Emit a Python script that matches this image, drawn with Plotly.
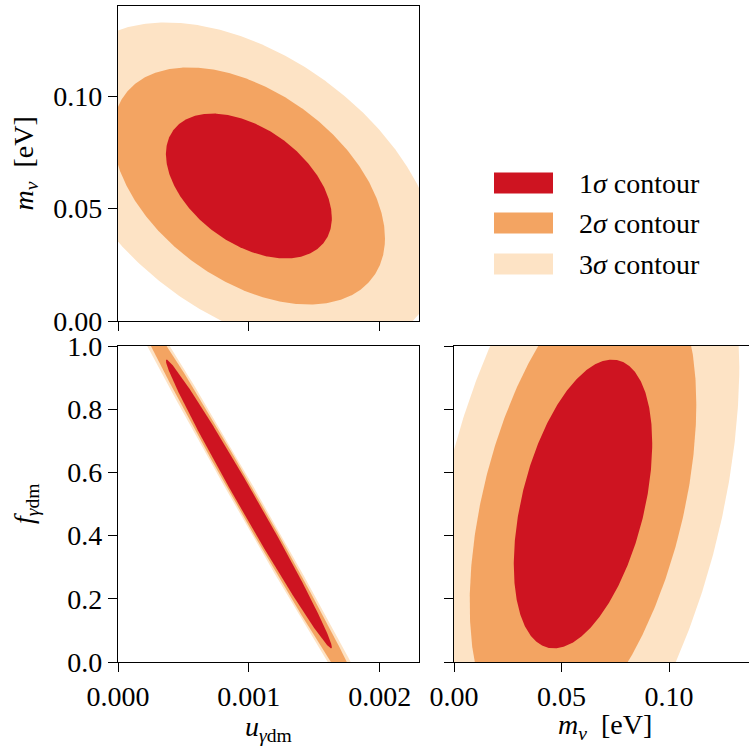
import numpy as np
import plotly.graph_objects as go

# ---------------------------------------------------------------- data
LEVEL_LABELS = ["1<i>σ</i> contour", "2<i>σ</i> contour", "3<i>σ</i> contour"]
FILL_COLORS = ["#CE1421", "#F3A462", "#FDE3C5"]

# fiducial values of the three parameters
FID_U = 0.001   # u_γdm
FID_M = 0.06    # m_ν [eV]
FID_F = 0.5     # f_γdm

# projected half-extents of the 1σ / 2σ / 3σ regions
HALF_U = [0.000634, 0.00104, 0.00144]
HALF_M = [0.0322, 0.0527, 0.0727]
HALF_F = [0.457, 0.75, 1.04]
UM_TILT = [-0.44, -0.44, -0.44]
MF_TILT = [0.42, 0.42, 0.42]

# u–f plane: nearly perfect degeneracy
UF_HALF_U = [0.000634, 0.000912, 0.001176]
UF_HALF_F = [0.457, 0.66, 0.85]
UF_TILT = [-0.992, -0.9945, -0.9956]

U_TICKS = [0.0, 0.001, 0.002]
M_TICKS = [0.0, 0.05, 0.10]
F_TICKS = [0.0, 0.2, 0.4, 0.6, 0.8, 1.0]
U_RANGE = [0.0, 0.0023]
M_RANGE = [0.0, 0.14]
F_RANGE = [0.0, 1.0]

# ---------------------------------------------------------------- layout
W = H = 749
FONT = "Liberation Serif, DejaVu Serif, serif"
FS = 28


def px(x):
    return x / W


def py(y):
    return 1 - y / H


def ellipse(cx, cy, hx, hy, tilt, n=600):
    t = np.linspace(0, 2 * np.pi, n)
    x = cx + hx * np.cos(t)
    y = cy + hy * (tilt * np.cos(t) + np.sqrt(1 - tilt ** 2) * np.sin(t))
    return x, y


fig = go.Figure()

# panel geometry in pixels
LEFT_X = (118, 419)
RIGHT_X = (454, 755)
TOP_Y = (6, 321)
BOT_Y = (346, 662)

panels = [
    # (xaxis, yaxis, cx, cy, half_x, half_y, tilt)
    ("x", "y", FID_U, FID_M, HALF_U, HALF_M, UM_TILT),
    ("x2", "y2", FID_U, FID_F, UF_HALF_U, UF_HALF_F, UF_TILT),
    ("x3", "y3", FID_M, FID_F, HALF_M, HALF_F, MF_TILT),
]

for xa, ya, cx, cy, hxs, hys, tilts in panels:
    for k in (2, 1, 0):
        ex, ey = ellipse(cx, cy, hxs[k], hys[k], tilts[k])
        fig.add_trace(go.Scatter(
            x=ex, y=ey, xaxis=xa, yaxis=ya, mode="lines",
            line=dict(width=0, color=FILL_COLORS[k]),
            fill="toself", fillcolor=FILL_COLORS[k],
            hoverinfo="skip", showlegend=False,
        ))

axis_common = dict(
    showgrid=False, zeroline=False, showline=True, linecolor="black",
    linewidth=1.3, ticks="outside", ticklen=9, tickwidth=1.3,
    tickcolor="black", automargin=False,
    tickfont=dict(family=FONT, size=FS, color="black"),
)

# right panel extends past the page edge, so its visible range is clipped
right_visible = M_RANGE[1] * (W - RIGHT_X[0]) / (RIGHT_X[1] - RIGHT_X[0])

fig.update_layout(
    width=W, height=H,
    margin=dict(l=0, r=0, t=0, b=0, autoexpand=False),
    paper_bgcolor="white", plot_bgcolor="white",
    font=dict(family=FONT, size=FS, color="black"),
    xaxis=dict(axis_common, domain=[px(LEFT_X[0]), px(LEFT_X[1])],
               range=U_RANGE, tickvals=U_TICKS, showticklabels=False,
               mirror=True, anchor="y"),
    yaxis=dict(axis_common, domain=[py(TOP_Y[1]), py(TOP_Y[0])],
               range=M_RANGE, tickvals=M_TICKS, tickformat=".2f",
               mirror=True, anchor="x"),
    xaxis2=dict(axis_common, domain=[px(LEFT_X[0]), px(LEFT_X[1])],
                range=U_RANGE, tickvals=U_TICKS, tickformat=".3f",
                mirror=True, anchor="y2"),
    yaxis2=dict(axis_common, domain=[py(BOT_Y[1]), py(BOT_Y[0])],
                range=F_RANGE, tickvals=F_TICKS, tickformat=".1f",
                mirror=True, anchor="x2"),
    xaxis3=dict(axis_common, domain=[px(RIGHT_X[0]), 1.0],
                range=[M_RANGE[0], right_visible], tickvals=M_TICKS,
                tickformat=".2f", mirror=True, anchor="y3"),
    yaxis3=dict(axis_common, domain=[py(BOT_Y[1]), py(BOT_Y[0])],
                range=F_RANGE, tickvals=F_TICKS, showticklabels=False,
                mirror=False, anchor="x3"),
)

title_font = dict(family=FONT, size=FS, color="black")
annotations = [
    dict(text="<i>m</i><sub><i>ν</i></sub>&nbsp;&nbsp;[eV]", x=px(25),
         y=py((TOP_Y[0] + TOP_Y[1]) / 2), textangle=-90),
    dict(text="<i>f</i><sub><i>γ</i>dm</sub>", x=px(25),
         y=py((BOT_Y[0] + BOT_Y[1]) / 2), textangle=-90),
    dict(text="<i>u</i><sub><i>γ</i>dm</sub>", x=px((LEFT_X[0] + LEFT_X[1]) / 2),
         y=py(728)),
    dict(text="<i>m</i><sub><i>ν</i></sub>&nbsp;&nbsp;[eV]",
         x=px((RIGHT_X[0] + RIGHT_X[1]) / 2), y=py(726)),
]
for a in annotations:
    fig.add_annotation(xref="paper", yref="paper", showarrow=False,
                       xanchor="center", yanchor="middle", font=title_font, **a)

# legend: colour patches with labels
LEG_PATCH_X = (494, 553)
LEG_ROWS_Y = [183, 223, 264]
for label, color, yc in zip(LEVEL_LABELS, FILL_COLORS, LEG_ROWS_Y):
    fig.add_shape(type="rect", xref="paper", yref="paper",
                  x0=px(LEG_PATCH_X[0]), x1=px(LEG_PATCH_X[1]),
                  y0=py(yc + 10.5), y1=py(yc - 10.5),
                  line=dict(width=0), fillcolor=color)
    fig.add_annotation(xref="paper", yref="paper", showarrow=False,
                       x=px(577), y=py(yc), xanchor="left", yanchor="middle",
                       text=label, font=title_font)

fig.write_html("out.html")
